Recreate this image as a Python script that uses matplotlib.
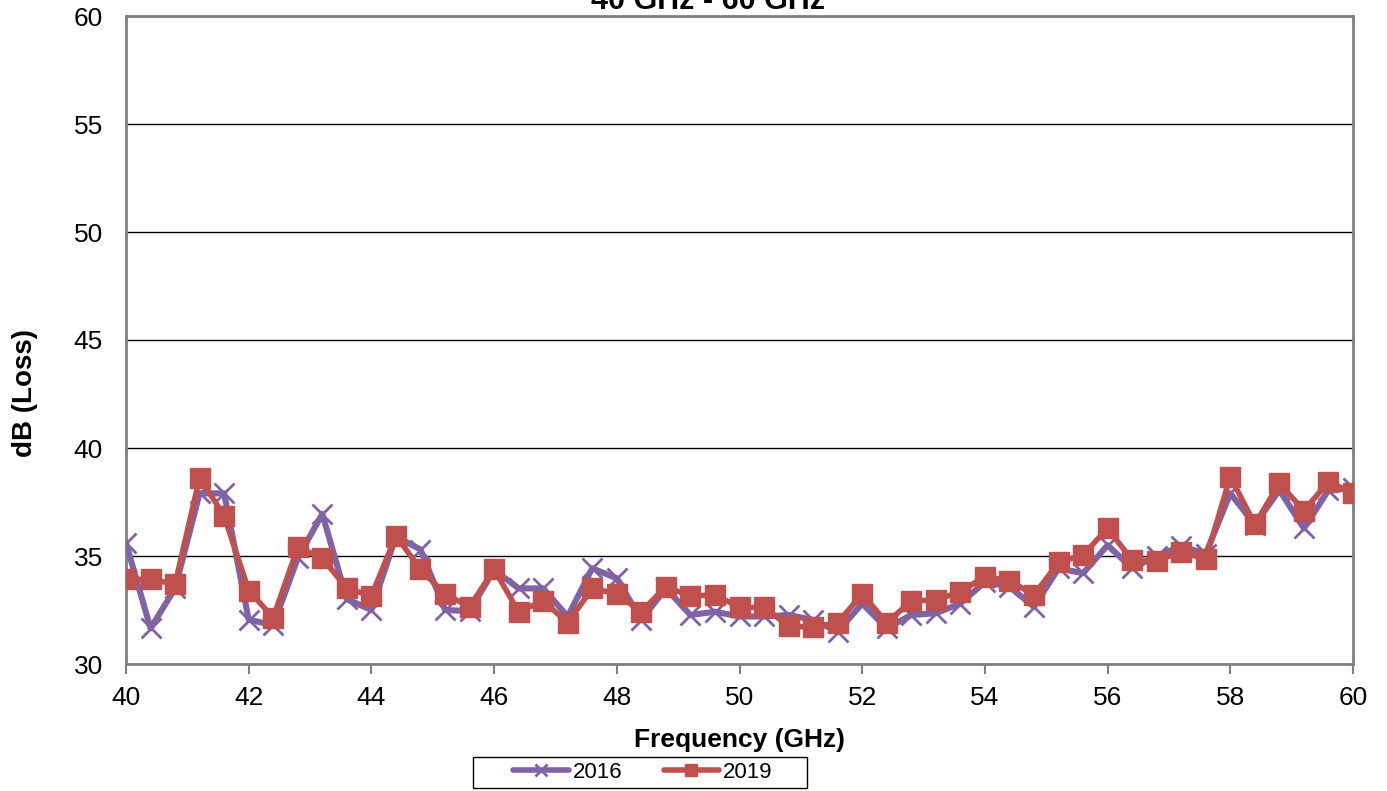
import matplotlib
matplotlib.use("Agg")
import matplotlib.pyplot as plt
from matplotlib.patches import Rectangle
import numpy as np

plt.rcParams['font.family'] = ['Liberation Sans', 'DejaVu Sans']

freq_ghz = [40.0, 40.4, 40.8, 41.2, 41.6, 42.0, 42.4, 42.8, 43.2, 43.6,
            44.0, 44.4, 44.8, 45.2, 45.6, 46.0, 46.4, 46.8, 47.2, 47.6,
            48.0, 48.4, 48.8, 49.2, 49.6, 50.0, 50.4, 50.8, 51.2, 51.6,
            52.0, 52.4, 52.8, 53.2, 53.6, 54.0, 54.4, 54.8, 55.2, 55.6,
            56.0, 56.4, 56.8, 57.2, 57.6, 58.0, 58.4, 58.8, 59.2, 59.6,
            60.0]

loss_2016 = [35.6, 31.65, 33.5, 37.9, 37.9, 32.05, 31.8, 34.9, 36.95, 33.0,
             32.5, 35.9, 35.3, 32.5, 32.45, 34.35, 33.5, 33.5, 32.2, 34.43,
             33.97, 32.04, 33.5, 32.27, 32.42, 32.2, 32.2, 32.27, 32.04, 31.5,
             32.8, 31.65, 32.27, 32.35, 32.8, 33.8, 33.58, 32.65, 34.43, 34.2,
             35.5, 34.43, 35.0, 35.45, 35.1, 37.9, 36.45, 38.05, 36.28, 38.05,
             38.13]

loss_2019 = [33.92, 33.92, 33.7, 38.63, 36.85, 33.4, 32.15, 35.4, 34.9, 33.5,
             33.15, 35.94, 34.38, 33.24, 32.65, 34.38, 32.42, 32.92, 31.91, 33.5,
             33.24, 32.42, 33.58, 33.15, 33.2, 32.62, 32.62, 31.76, 31.7, 31.91,
             33.24, 31.91, 32.92, 32.96, 33.35, 34.04, 33.86, 33.2, 34.7, 35.05,
             36.28, 34.81, 34.78, 35.2, 34.85, 38.67, 36.47, 38.36, 37.1, 38.44,
             37.9]

x_ticks = [40, 42, 44, 46, 48, 50, 52, 54, 56, 58, 60]
y_ticks = [30, 35, 40, 45, 50, 55, 60]

purple = '#7F63A4'
red = '#C0504D'

W, H = 1387, 791
fig = plt.figure(figsize=(W / 100, H / 100), dpi=100)
ax = fig.add_axes([126 / W, 127 / H, (1353 - 126) / W, (664 - 16) / H])

ax.plot(freq_ghz, loss_2016, color=purple, lw=4.4, marker='x', ms=15,
        mew=2.0, mec=purple, label='2016', zorder=3,
        solid_capstyle='round')
ax.plot(freq_ghz, loss_2019, color=red, lw=4.0, marker='s', ms=14.5,
        mfc=red, mec=red, label='2019', zorder=4,
        solid_capstyle='round')

ax.set_xlim(40, 60)
ax.set_ylim(30, 60)
ax.set_xticks(x_ticks)
ax.set_yticks(y_ticks)
ax.tick_params(axis='both', labelsize=19, width=1.5, color='#808080')
ax.tick_params(axis='x', direction='out', length=7, pad=9)
ax.tick_params(axis='y', length=0, pad=16.5)
ax.yaxis.grid(True, color='black', lw=1.0)
ax.set_axisbelow(True)
for side, sp in ax.spines.items():
    sp.set_color('#808080')
    sp.set_linewidth(2.0)

ax.set_xlabel('Frequency (GHz)', fontsize=19, fontweight='bold', labelpad=13)
fig.text(25 / W, 1 - 393 / H, 'dB (Loss)', rotation=90, ha='center',
         va='center', fontsize=20, fontweight='bold')

fig.text(708 / W, 1 - 9 / H, '40 GHz - 60 GHz', ha='center',
         va='baseline', fontsize=22, fontweight='bold')

# legend entries without their own frame, boxed by a plain rectangle
leg = fig.legend(loc='center', bbox_to_anchor=(643 / W, 1 - 772.5 / H),
                 ncol=2, fontsize=16, frameon=False,
                 handlelength=2.5, columnspacing=1.85, handletextpad=0.18,
                 markerscale=0.55, borderpad=0.0)
for line in leg.get_lines():
    line.set_linewidth(4.0)
    line.set_solid_capstyle('round')
fig.patches.append(Rectangle((473 / W, 1 - 788 / H), (807 - 473) / W,
                             (788 - 757) / H, transform=fig.transFigure,
                             fill=False, edgecolor='black', lw=1.0))

fig.savefig('out.png', dpi=100)
